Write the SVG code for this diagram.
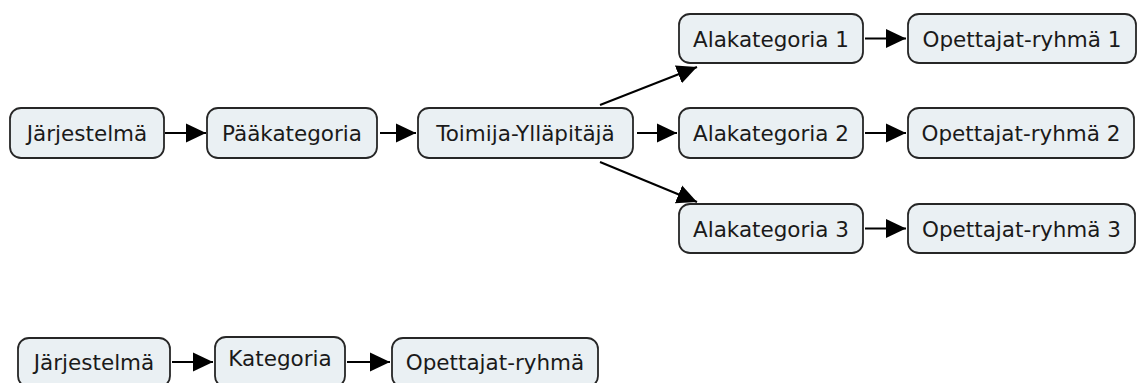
<svg xmlns="http://www.w3.org/2000/svg" width="1138" height="383" viewBox="0 0 1138 383">
<style>
.box{fill:#eaf0f3;stroke:#262626;stroke-width:1.8}
.lbl{font-family:"DejaVu Sans","Verdana",sans-serif;font-size:21.5px;fill:#1a1a1a;text-anchor:middle}
.con{stroke:#000;stroke-width:2;fill:none;marker-end:url(#ah)}
</style>
<defs>
<marker id="ah" markerUnits="userSpaceOnUse" markerWidth="22" markerHeight="22" viewBox="0 0 22 22" refX="20" refY="11" orient="auto">
<path d="M0,1.5 L20,11 L0,20.5 Z" fill="#000"/>
</marker>
</defs>
<rect width="1138" height="383" fill="#fff"/>
<g id="connectors">
<line class="con" x1="165" y1="133" x2="206" y2="133"/>
<line class="con" x1="380" y1="133" x2="416" y2="133"/>
<line class="con" x1="637" y1="133" x2="677" y2="133"/>
<line class="con" x1="600" y1="105" x2="697" y2="67"/>
<line class="con" x1="600" y1="162" x2="697" y2="202"/>
<line class="con" x1="865" y1="38.5" x2="906" y2="38.5"/>
<line class="con" x1="865" y1="133" x2="906" y2="133"/>
<line class="con" x1="865" y1="228.5" x2="906" y2="228.5"/>
<line class="con" x1="172" y1="362" x2="213" y2="362"/>
<line class="con" x1="347" y1="362" x2="390" y2="362"/>
</g>
<g id="jarjestelma1"><rect class="box" x="10" y="108" width="154" height="50" rx="11"/><text class="lbl" x="87" y="140.5">Järjestelmä</text></g>
<g id="paakategoria"><rect class="box" x="207" y="108" width="170" height="50" rx="11"/><text class="lbl" x="292" y="140.5">Pääkategoria</text></g>
<g id="toimija"><rect class="box" x="418" y="108" width="215" height="50" rx="11"/><text class="lbl" x="525.5" y="140.5">Toimija-Ylläpitäjä</text></g>
<g id="alakategoria1"><rect class="box" x="679" y="14" width="184" height="49" rx="11"/><text class="lbl" x="771" y="46.5">Alakategoria 1</text></g>
<g id="alakategoria2"><rect class="box" x="679" y="108" width="184" height="50" rx="11"/><text class="lbl" x="771" y="140.5">Alakategoria 2</text></g>
<g id="alakategoria3"><rect class="box" x="679" y="204" width="184" height="49" rx="11"/><text class="lbl" x="771" y="236.5">Alakategoria 3</text></g>
<g id="opettajat1"><rect class="box" x="908" y="14" width="228" height="49" rx="11"/><text class="lbl" x="1022" y="46.5">Opettajat-ryhmä 1</text></g>
<g id="opettajat2"><rect class="box" x="908" y="108" width="226" height="50" rx="11"/><text class="lbl" x="1021" y="140.5">Opettajat-ryhmä 2</text></g>
<g id="opettajat3"><rect class="box" x="908" y="204" width="227" height="49" rx="11"/><text class="lbl" x="1021.5" y="236.5">Opettajat-ryhmä 3</text></g>
<g id="jarjestelma2"><rect class="box" x="18" y="338" width="152" height="49" rx="11"/><text class="lbl" x="94" y="369.5">Järjestelmä</text></g>
<g id="kategoria"><rect class="box" x="215" y="337" width="130" height="50" rx="11"/><text class="lbl" x="280" y="365.5">Kategoria</text></g>
<g id="opettajat"><rect class="box" x="392" y="338" width="206" height="49" rx="11"/><text class="lbl" x="495" y="369.5">Opettajat-ryhmä</text></g>
</svg>
